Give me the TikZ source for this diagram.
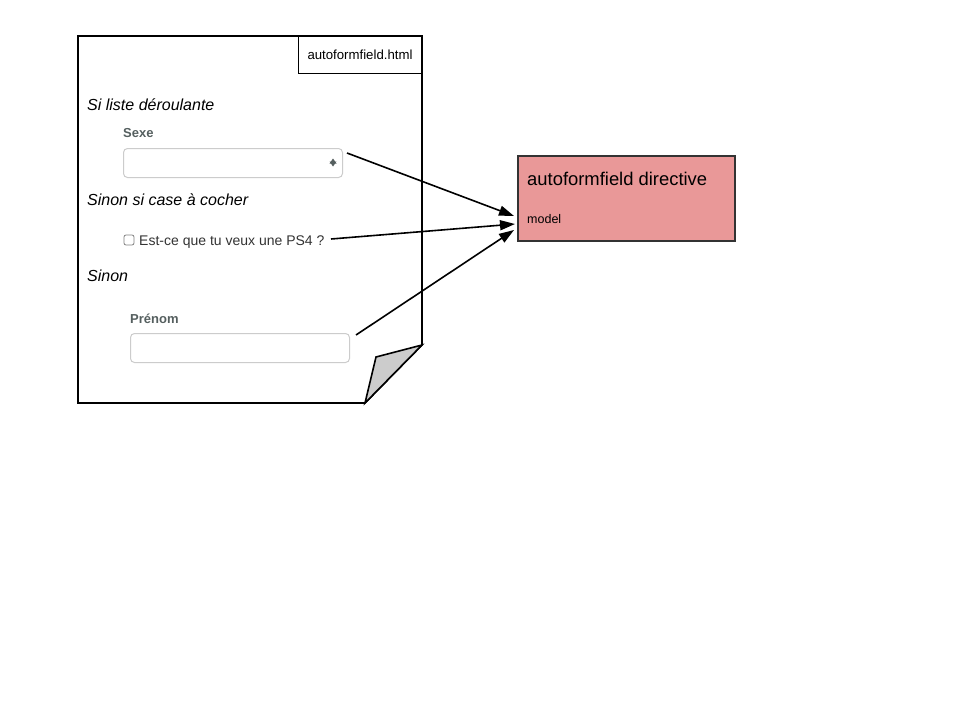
\documentclass[tikz,border=0pt]{standalone}
\usepackage{fontspec}
\setmainfont{Liberation Sans}
\usetikzlibrary{arrows.meta}

\definecolor{directivered}{RGB}{233,152,152}
\definecolor{fieldgray}{RGB}{204,204,204}
\definecolor{labelgray}{RGB}{85,95,95}
\definecolor{textdark}{RGB}{51,51,51}
\definecolor{foldgray}{RGB}{204,204,204}

\tikzset{
    page/.style={draw=black, line width=1.6pt},
    condition/.style={anchor=base west, inner sep=0pt, font=\fontsize{16}{19}\selectfont\itshape},
    fieldlabel/.style={anchor=base west, inner sep=0pt, text=labelgray, font=\fontsize{13}{16}\selectfont\bfseries},
    fieldbox/.style={draw=fieldgray, line width=1pt, rounded corners=4pt},
    link/.style={line width=1.6pt, -{Triangle[length=15pt,width=10pt]}}
}

\begin{document}
\begin{tikzpicture}[x=1pt, y=-1pt]
        \useasboundingbox (0,0) rectangle (960,720);

        % The template page with its folded corner
        \draw[page, fill=white] (78,36) -- (422,36) -- (422,345) -- (365,403) -- (78,403) -- cycle;
        \draw[page, fill=foldgray] (422,345) -- (376,357) -- (365,403) -- cycle;
        \draw[line width=1pt] (298,36) rectangle (422,73);
        \node[font=\fontsize{13.2}{15}\selectfont] (filename) at (360,54.5) {autoformfield.html};

        % Select case
        \node[condition] (ifselect) at (87,110) {Si liste déroulante};
        \node[fieldlabel] (sexlabel) at (123,137) {Sexe};
        \node[fieldbox, minimum width=219pt, minimum height=29pt, anchor=north west] (select) at (123,148) {};
        \coordinate (spinner) at (333,162.5);
        \fill[labelgray] ([yshift=-1pt]spinner) -- ++(-3.5,0) -- ++(3.5,-5) -- ++(3.5,5) -- cycle;
        \fill[labelgray] ([yshift=1pt]spinner) -- ++(-3.5,0) -- ++(3.5,5) -- ++(3.5,-5) -- cycle;

        % Checkbox case
        \node[condition] (ifcheckbox) at (87,205) {Sinon si case à cocher};
        \node[draw=gray, line width=0.8pt, rounded corners=2pt, minimum size=10pt, inner sep=0pt] (checkbox) at (129,240) {};
        \node[anchor=base west, text=textdark, font=\fontsize{14}{17}\selectfont, inner sep=0pt] (checklabel) at (139,245) {Est-ce que tu veux une PS4 ?};

        % Default case
        \node[condition] (otherwise) at (87,281) {Sinon};
        \node[fieldlabel] (namelabel) at (130,323) {Prénom};
        \node[fieldbox, minimum width=219pt, minimum height=29pt, anchor=north west] (input) at (130,333) {};

        % The directive
        \node[draw=black!80, line width=1.6pt, fill=directivered, minimum width=217pt, minimum height=85pt, anchor=north west] (directive) at (517,155) {};
        \node[anchor=base west, inner sep=0pt, font=\fontsize{18.4}{22}\selectfont] (dirtitle) at (527,185) {autoformfield directive};
        \node[anchor=base west, inner sep=0pt, font=\fontsize{12.5}{15}\selectfont] (model) at (527,223) {model};

        % Links
        \coordinate (fromselect) at (347,153);
        \coordinate (fromcheck) at (331,239);
        \coordinate (frominput) at (356,335);
        \coordinate (tosel) at (514,216);
        \coordinate (tochk) at (515,224);
        \coordinate (toinp) at (514,230);
        \draw[link] (fromselect) -- (tosel);
        \draw[link] (fromcheck) -- (tochk);
        \draw[link] (frominput) -- (toinp);
\end{tikzpicture}
\end{document}
